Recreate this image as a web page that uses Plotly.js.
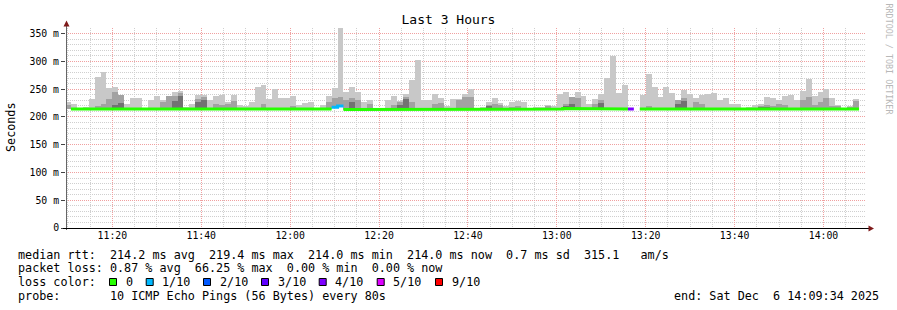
<!DOCTYPE html>
<html><head><meta charset="utf-8">
<script src="https://cdn.plot.ly/plotly-3.0.1.min.js"></script>
<style>html,body{margin:0;padding:0;background:#fff;} #chart{width:897px;height:310px;}</style>
</head><body><div id="chart"></div>
<script>
// ---- DATA (one value per 80 s RRD bin, first bin starts 11:09:20) ----
const binStart = Date.UTC(2025, 11, 6, 11, 9, 20);
const stepMs = 80000;
const rangeStart = '2025-12-06 11:09:34';
const rangeEnd = '2025-12-06 14:09:34';

// top of the smoke (slowest ping), ms
const maxRtt = [
  227.6, 223.6, 215, 217, 233, 272, 281, 252, 254, 240,
  223.6, 234, 234, 215, 231, 238, 231, 238, 245, 247,
  217, 223.6, 240, 240, 231, 238, 240, 227.7, 240, 221.8,
  220, 227.7, 253.6, 257.7, 233, 250, 234, 234, 238, 221.8,
  225, 226.6, 216, 221.8, 238, 252, 360, 245, 254, 244,
  227, 231, 215, 215, 231, 238, 228, 241.5, 266.7, 302.6,
  231, 231, 241.5, 234, 220, 232.5, 232.5, 241.5, 250, 215,
  217.4, 227, 233.6, 225, 219.8, 227, 229.4, 227, 215, 217.4,
  217.4, 221, 219.8, 241.4, 245, 236, 245, 237.8, 223.4, 231.8,
  241.4, 270.2, 309.8, 243, 257.6, null, null, 239.6, 277.4, 254,
  235.4, 254, 243, 230.6, 248.6, 241.4, 234, 239.6, 241.4, 243,
  230.6, 234, 223.4, 223.4, 215, 217.4, 221.6, 223.4, 236, 234,
  230.6, 237.8, 239.6, 230.6, 246.8, 268.4, 237.8, 245, 250.4, 234,
  221.6, 215, 219.8, 232.4
];
// middle smoke band top, ms
const midRtt = [
  222, null, null, null, null, 220, 223.4, 232.4, 245, 240,
  null, null, null, null, null, null, 226, 238, 238, 243,
  null, null, 233, 236, null, 224, 222, 224, 229, null,
  null, null, null, 224, null, null, null, null, 220, null,
  null, null, null, null, 227, 234, 236, 231, 234, 231,
  null, 224, null, null, null, 221, 227, 236, 227, null,
  null, null, 223, 225, null, null, 231, 236, 236, null,
  null, 222, 223.4, 221, null, 218.6, 219.8, null, null, null,
  null, 219.8, null, null, 223.4, 236, 234, null, null, 223.4,
  230.6, null, null, null, null, null, null, null, 219.8, null,
  null, null, null, 230.6, 234, null, 227, 223.4, null, null,
  null, null, null, null, null, null, null, 219.8, 221.6, 219.8,
  223.4, 221.6, null, null, 230.6, 236, 221.6, 227, 234, 219.8,
  219.8, null, 217.4, 228.8
];
// inner (densest) smoke band top, ms
const darkRtt = [
  null, null, null, null, null, null, null, null, 221.6, 225,
  null, null, null, null, null, null, null, null, 229, 238,
  null, null, 227, 231, null, null, null, null, null, null,
  null, null, null, null, null, null, null, null, null, null,
  null, null, null, null, null, null, null, null, 226, null,
  null, null, null, null, null, null, 221, 233, null, null,
  null, null, null, null, null, null, null, null, null, null,
  null, 220, null, null, null, null, null, null, null, null,
  null, null, null, null, 219.8, 223.4, null, null, null, null,
  224.6, null, null, null, null, null, null, null, null, null,
  null, null, null, 223.4, 228.8, null, null, null, null, null,
  null, null, null, null, null, null, null, 218.6, 218.6, null,
  null, null, null, null, null, null, null, null, null, null,
  null, null, null, null
];
// median rtt, ms
const medianRtt = [
  214.2, 214.2, 214.2, 214.2, 214.2, 213.4, 214.2, 214.2, 214.2, 214.2,
  214.2, 214.2, 214.2, 214.2, 214.2, 214.2, 214.2, 214.2, 214.2, 214.2,
  214.2, 214.2, 214.2, 214.2, 214.2, 214.2, 214.2, 213.2, 214.2, 214.2,
  214.2, 214.2, 214.2, 214.2, 214.2, 214.2, 214.2, 214.2, 214.2, 214.2,
  214.2, 214.2, 214.2, 214.2, 214.2, 217.2, 219.4, 213.2, 214.2, 214.2,
  214.2, 214.2, 214.2, 214.2, 214.2, 214.2, 213.2, 214.2, 214.2, 214.2,
  214.2, 214.2, 214.2, 214.2, 214.2, 214.2, 214.2, 214.2, 214.2, 214.2,
  214.2, 214.2, 214.2, 214.2, 214.2, 214.2, 214.2, 214.2, 214.2, 214.2,
  214.2, 214.2, 214.2, 214.2, 215.2, 215.2, 214.2, 214.2, 214.2, 214.2,
  214.2, 214.2, 214.2, 214.2, 214.2, 214.2, null, 214.2, 214.2, 214.2,
  214.2, 214.2, 214.2, 214.2, 214.2, 214.2, 214.2, 214.2, 214.2, 214.2,
  214.2, 214.2, 213.2, 214.2, 214.2, 214.2, 214.2, 214.2, 214.2, 214.2,
  214.2, 214.2, 214.2, 214.2, 214.2, 214.2, 214.2, 214.2, 214.2, 214.2,
  214.2, 214.2, 214.2, 214.2
];
// lost pings out of 10 (null = unknown)
const lossTenths = [
  null, 0, 0, 0, 0, 0, 0, 0, 0, 0,
  0, 0, 0, 0, 0, 0, 0, 0, 0, 0,
  0, 0, 0, 0, 0, 0, 0, 0, 0, 0,
  0, 0, 0, 0, 0, 0, 0, 0, 0, 0,
  0, 0, 0, 0, 0, 1, 1, 0, 0, 0,
  0, 0, 0, 0, 0, 0, 0, 0, 0, 0,
  0, 0, 0, 0, 0, 0, 0, 0, 0, 0,
  0, 0, 0, 0, 0, 0, 0, 0, 0, 0,
  0, 0, 0, 0, 0, 0, 0, 0, 0, 0,
  0, 0, 0, 0, 0, 4, null, 0, 0, 0,
  0, 0, 0, 0, 0, 0, 0, 0, 0, 0,
  0, 0, 0, 0, 0, 0, 0, 0, 0, 0,
  0, 0, 0, 0, 0, 0, 0, 0, 0, 0,
  0, 0, 0, 0
];
const lossLevels = [0, 1, 2, 3, 4, 5, 9];
const lossLabels = ['0', '1/10', '2/10', '3/10', '4/10', '5/10', '9/10'];
const lossColors = ['#26ff00', '#00b8ff', '#0059ff', '#5e00ff', '#7e00ff', '#dd00ff', '#ff0000'];
const yTickVals = [0, 50, 100, 150, 200, 250, 300, 350];
const yTickText = ['0', '50 m', '100 m', '150 m', '200 m', '250 m', '300 m', '350 m'];
const titleText = 'Last 3 Hours';
const yTitle = 'Seconds';
const statsLine1 = 'median rtt:  214.2 ms avg  219.4 ms max  214.0 ms min  214.0 ms now  0.7 ms sd  315.1   am/s';
const statsLine2 = 'packet loss: 0.87 % avg  66.25 % max  0.00 % min  0.00 % now';
const lossTitle = 'loss color:';
const probeLine = 'probe:       10 ICMP Echo Pings (56 Bytes) every 80s';
const endLine = 'end: Sat Dec  6 14:09:34 2025';
const watermark = 'RRDTOOL / TOBI OETIKER';

// ---- BUILD ----
const MONO = 'DejaVu Sans Mono, monospace';
const nb = s => s.replace(/ /g, '\u00a0');
const times = maxRtt.map((_, i) => binStart + i * stepMs);

function smokeTrace(tops, color) {
  const y = tops.map((v, i) => (v != null && medianRtt[i] != null && v > medianRtt[i]) ? v - medianRtt[i] : null);
  return {type: 'bar', x: times, y: y, base: medianRtt, width: stepMs, offset: 0,
          marker: {color: color, line: {width: 0}}, hoverinfo: 'skip'};
}
const traces = [
  smokeTrace(maxRtt, '#c8c8c8'),
  smokeTrace(midRtt, '#a2a2a2'),
  smokeTrace(darkRtt, '#727272')
];
lossLevels.forEach((lv, li) => {
  const xs = [], ys = [];
  for (let i = 0; i < medianRtt.length; i++) {
    if (lossTenths[i] === lv && medianRtt[i] != null) {
      xs.push(times[i], times[i] + stepMs); ys.push(medianRtt[i], medianRtt[i]);
      if (lossTenths[i + 1] !== lv) { xs.push(null); ys.push(null); }
    }
  }
  if (xs.length) traces.push({type: 'scatter', mode: 'lines', x: xs, y: ys,
    line: {color: lossColors[li], width: 3}, connectgaps: false, hoverinfo: 'skip'});
});

// pixel -> paper helpers (plot area: x 66..866, y 28..228)
const PX = x => (x - 66) / 800;
const PY = y => (228 - y) / 200;

const shapes = [
  {type: 'line', xref: 'paper', yref: 'paper', x0: PX(66.5), x1: PX(66.5), y0: PY(230), y1: PY(25), line: {color: '#666', width: 1}, layer: 'above'},
  {type: 'line', xref: 'paper', yref: 'paper', x0: PX(63), x1: PX(869), y0: PY(228.5), y1: PY(228.5), line: {color: '#000', width: 1}, layer: 'above'},
  {type: 'path', xref: 'paper', yref: 'paper', layer: 'above', line: {width: 0}, fillcolor: '#7f1a1a',
   path: `M${PX(66.5)},${PY(20.5)} L${PX(63.5)},${PY(26.5)} L${PX(69.5)},${PY(26.5)} Z`},
  {type: 'path', xref: 'paper', yref: 'paper', layer: 'above', line: {width: 0}, fillcolor: '#7f1a1a',
   path: `M${PX(874)},${PY(228.5)} L${PX(868.5)},${PY(225.5)} L${PX(868.5)},${PY(231.5)} Z`}
];
const boxLeft = [109, 145.7, 203, 261, 318.7, 376.7, 435];
const annotations = [
  {xref: 'paper', yref: 'paper', x: PX(11), y: PY(127), text: yTitle, textangle: -90, showarrow: false,
   font: {family: MONO, size: 11.75, color: '#000'}, xanchor: 'center', yanchor: 'middle'},
  {xref: 'paper', yref: 'paper', x: PX(888), y: PY(59.5), text: nb(watermark), textangle: 90, showarrow: false,
   font: {family: MONO, size: 8.4, color: '#b8b8b8'}, xanchor: 'center', yanchor: 'middle'},
  {xref: 'paper', yref: 'paper', x: PX(16), y: PY(254.5), text: nb(statsLine1), showarrow: false, xanchor: 'left', yanchor: 'middle', font: {family: MONO, size: 11.75, color: '#000'}},
  {xref: 'paper', yref: 'paper', x: PX(16), y: PY(268.3), text: nb(statsLine2), showarrow: false, xanchor: 'left', yanchor: 'middle', font: {family: MONO, size: 11.75, color: '#000'}},
  {xref: 'paper', yref: 'paper', x: PX(16), y: PY(282.2), text: nb(lossTitle), showarrow: false, xanchor: 'left', yanchor: 'middle', font: {family: MONO, size: 11.75, color: '#000'}},
  {xref: 'paper', yref: 'paper', x: PX(16), y: PY(296), text: nb(probeLine), showarrow: false, xanchor: 'left', yanchor: 'middle', font: {family: MONO, size: 11.75, color: '#000'}},
  {xref: 'paper', yref: 'paper', x: PX(881), y: PY(296), text: nb(endLine), showarrow: false, xanchor: 'right', yanchor: 'middle', font: {family: MONO, size: 11.75, color: '#000'}}
];
lossLabels.forEach((lab, i) => {
  shapes.push({type: 'rect', xref: 'paper', yref: 'paper', x0: PX(boxLeft[i] + 0.5), x1: PX(boxLeft[i] + 7.5),
    y0: PY(278.5), y1: PY(285.5), fillcolor: lossColors[i], line: {color: '#000', width: 1}});
  annotations.push({xref: 'paper', yref: 'paper', x: PX(boxLeft[i] + 14.5), y: PY(282.2), text: lab, showarrow: false,
    xanchor: 'left', yanchor: 'middle', font: {family: MONO, size: 11.75, color: '#000'}});
});

const gridDash = '1px,1px';
const layout = {
  width: 897, height: 310,
  margin: {l: 66, r: 31, t: 28, b: 82, pad: 0},
  paper_bgcolor: '#ffffff', plot_bgcolor: '#ffffff',
  showlegend: false, barmode: 'overlay', bargap: 0,
  font: {family: MONO, size: 10, color: '#000'},
  title: {text: titleText, font: {family: MONO, size: 13, color: '#000'},
          x: 0.5, xref: 'container', xanchor: 'center', y: 1 - 19.5 / 310, yref: 'container', yanchor: 'middle'},
  xaxis: {type: 'date', range: [rangeStart, rangeEnd], tick0: '2025-12-06 11:00:00', dtick: 1200000,
          tickformat: '%H:%M', ticks: '', showline: false, zeroline: false,
          showgrid: true, gridcolor: '#f0a0a0', gridwidth: 1, griddash: gridDash,
          minor: {tickmode: 'linear', dtick: 300000, tick0: '2025-12-06 11:00:00', showgrid: true, gridcolor: '#cfcfcf', griddash: gridDash, gridwidth: 1, ticks: ''},
          tickfont: {family: MONO, size: 9.8, color: '#000'}, fixedrange: true},
  yaxis: {range: [0, 360], tickmode: 'array', tickvals: yTickVals, ticktext: yTickText,
          ticks: 'outside', ticklen: 4, tickcolor: '#444', tickwidth: 1, showline: false, zeroline: false,
          showgrid: true, gridcolor: '#f0a0a0', gridwidth: 1, griddash: gridDash,
          minor: {tickmode: 'linear', tick0: 0, dtick: 10, showgrid: true, gridcolor: '#cfcfcf', griddash: gridDash, gridwidth: 1, ticks: ''},
          tickfont: {family: MONO, size: 9.8, color: '#000'}, fixedrange: true},
  shapes: shapes,
  annotations: annotations
};
Plotly.newPlot('chart', traces, layout, {staticPlot: true, displayModeBar: false});
</script>
</body></html>
